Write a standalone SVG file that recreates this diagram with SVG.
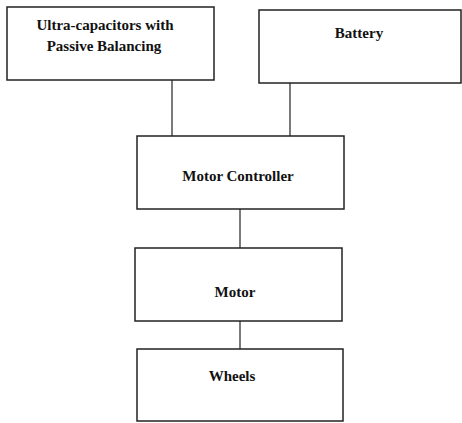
<svg xmlns="http://www.w3.org/2000/svg" width="462" height="423" viewBox="0 0 462 423">
  <style>
    .box { fill: #ffffff; stroke: #222222; stroke-width: 1.5; }
    .wire { fill: none; stroke: #222222; stroke-width: 1.2; }
    .label { font-family: 'Liberation Serif', 'Times New Roman', Times, serif; font-weight: bold; font-size: 15px; fill: #111111; text-anchor: middle; }
  </style>
  <rect width="462" height="423" fill="#ffffff"/>
  <g id="connectors">
    <line class="wire" x1="172" y1="80" x2="172" y2="136"/>
    <line class="wire" x1="290" y1="83" x2="290" y2="136"/>
    <line class="wire" x1="240" y1="209" x2="240" y2="248"/>
    <line class="wire" x1="240" y1="321" x2="240" y2="349"/>
  </g>
  <g id="ultracapacitors">
    <rect class="box" x="7" y="7" width="207" height="73"/>
    <text class="label" x="105" y="30">Ultra-capacitors with</text>
    <text class="label" x="104" y="51">Passive Balancing</text>
  </g>
  <g id="battery">
    <rect class="box" x="259" y="10" width="202" height="73"/>
    <text class="label" x="359" y="38">Battery</text>
  </g>
  <g id="motor-controller">
    <rect class="box" x="137" y="136" width="207" height="73"/>
    <text class="label" x="238" y="181">Motor Controller</text>
  </g>
  <g id="motor">
    <rect class="box" x="135" y="248" width="207" height="73"/>
    <text class="label" x="235" y="297">Motor</text>
  </g>
  <g id="wheels">
    <rect class="box" x="137" y="349" width="206" height="72"/>
    <text class="label" x="232" y="381">Wheels</text>
  </g>
</svg>
